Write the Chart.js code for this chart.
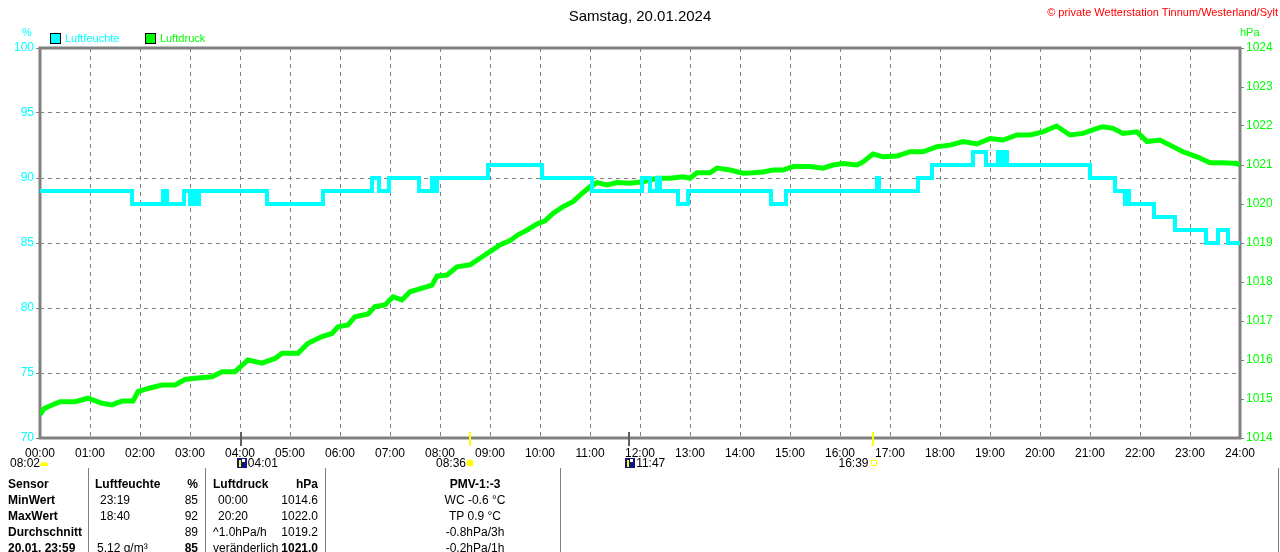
<!DOCTYPE html>
<html lang="de">
  <head>
    <meta charset="UTF-8" />
    <title>Wetterstation Tinnum - Luftfeuchte / Luftdruck</title>
    <script src="https://cdn.jsdelivr.net/npm/chart.js@4.4.1/dist/chart.umd.min.js"></script>
    <style>
      body { margin: 0; background: #fff; }
      #wrap { position: relative; width: 1280px; height: 552px; overflow: hidden;
              font-family: "Liberation Sans", Arial, sans-serif; font-size: 12px; }
      #wrap canvas { position: absolute; left: 0; top: 0; }
      .t { position: absolute; white-space: nowrap; line-height: 14px; }
      .b { font-weight: bold; }
      .r { text-align: right; }
      .c { text-align: center; }
      .vl { position: absolute; width: 1px; background: #808080; top: 468px; height: 84px; }
      .box { position: absolute; width: 9px; height: 9px; border: 1px solid #000; }
    </style>
  </head>
  <body>
    <div id="wrap">
      <canvas id="chart" width="1280" height="552"></canvas>
    </div>

    <script>
      // values
      const hourLabels = ["00:00", "01:00", "02:00", "03:00", "04:00", "05:00", "06:00", "07:00",
        "08:00", "09:00", "10:00", "11:00", "12:00", "13:00", "14:00", "15:00", "16:00",
        "17:00", "18:00", "19:00", "20:00", "21:00", "22:00", "23:00", "24:00"];

      // Luftfeuchte (%), step changes: hour of day -> value from then on
      const humTimes = [0, 1.84, 2.46, 2.54, 2.88, 3.0, 3.06, 3.12, 3.18, 4.54, 5.66, 6.64, 6.78,
        6.98, 7.58, 7.84, 7.88, 7.94, 8.96, 10.04, 11.04, 12.04, 12.2, 12.34, 12.4, 12.76,
        12.96, 14.62, 14.92, 16.74, 16.78, 17.56, 17.84, 18.66, 18.92, 19.16, 19.22, 19.26,
        19.34, 21.0, 21.5, 21.7, 21.74, 21.78, 22.28, 22.7, 23.32, 23.56, 23.76, 24];
      const humValues = [89, 88, 89, 88, 89, 88, 89, 88, 89, 88, 89, 90, 89,
        90, 89, 90, 89, 90, 91, 90, 89, 90, 89, 90, 89, 88,
        89, 88, 89, 90, 89, 90, 91, 92, 91, 92, 91, 92,
        91, 90, 89, 88, 89, 88, 87, 86, 85, 86, 85, 85];

      // Luftdruck (hPa)
      const presTimes = [0, 0.08, 0.16, 0.4, 0.7, 0.96, 1.24, 1.44, 1.64, 1.86, 1.96, 2.16, 2.44,
        2.7, 2.9, 3.1, 3.44, 3.64, 3.9, 4.16, 4.44, 4.7, 4.84, 5.16, 5.36, 5.64, 5.84, 5.96,
        6.16, 6.3, 6.56, 6.7, 6.9, 7.06, 7.24, 7.4, 7.66, 7.84, 7.94, 8.14, 8.34, 8.6, 8.8,
        9.0, 9.2, 9.4, 9.56, 9.74, 9.94, 10.1, 10.26, 10.46, 10.66, 10.84, 11.0, 11.14,
        11.34, 11.54, 11.8, 12.06, 12.34, 12.6, 12.86, 13.0, 13.14, 13.4, 13.54, 13.8,
        14.06, 14.26, 14.46, 14.66, 14.86, 15.06, 15.4, 15.66, 15.86, 16.06, 16.34, 16.46,
        16.66, 16.86, 17.14, 17.4, 17.66, 17.94, 18.2, 18.46, 18.74, 19.0, 19.26, 19.54,
        19.8, 20.06, 20.33, 20.6, 20.86, 21.14, 21.26, 21.46, 21.66, 21.94, 22.14, 22.4,
        22.6, 22.86, 23.14, 23.4, 23.66, 23.94, 24];
      const presValues = [1014.6, 1014.75, 1014.8, 1014.93, 1014.93, 1015.02, 1014.89, 1014.85,
        1014.95, 1014.95, 1015.19, 1015.27, 1015.36, 1015.36, 1015.5, 1015.53, 1015.57,
        1015.7, 1015.7, 1016.0, 1015.92, 1016.04, 1016.17, 1016.17, 1016.43, 1016.6,
        1016.68, 1016.85, 1016.9, 1017.11, 1017.18, 1017.37, 1017.41, 1017.62, 1017.54,
        1017.75, 1017.85, 1017.92, 1018.15, 1018.18, 1018.39, 1018.44, 1018.61, 1018.78,
        1018.95, 1019.06, 1019.21, 1019.33, 1019.49, 1019.57, 1019.76, 1019.93, 1020.06,
        1020.27, 1020.44, 1020.55, 1020.49, 1020.55, 1020.53, 1020.57, 1020.66, 1020.66,
        1020.7, 1020.66, 1020.8, 1020.8, 1020.92, 1020.87, 1020.79, 1020.8, 1020.82,
        1020.87, 1020.87, 1020.96, 1020.96, 1020.92, 1021.0, 1021.04, 1021.0, 1021.08,
        1021.28, 1021.21, 1021.23, 1021.34, 1021.34, 1021.47, 1021.51, 1021.6, 1021.54,
        1021.68, 1021.64, 1021.77, 1021.77, 1021.85, 1022.0, 1021.77, 1021.81, 1021.94,
        1021.98, 1021.94, 1021.81, 1021.85, 1021.6, 1021.64, 1021.51, 1021.34, 1021.21,
        1021.06, 1021.06, 1021.04, 1021.0];

      // sun / moon events under the time axis
      const eventLabels = ["04:01", "08:36", "11:47", "16:39"];
      const eventHours = [4.017, 8.6, 11.783, 16.65];
      const eventKinds = ["moonrise", "sunrise", "moonset", "sunset"];

      // table below the chart
      const tableRows = [
        ["Sensor", "Luftfeuchte", "%", "Luftdruck", "hPa", "PMV-1:-3"],
        ["MinWert", "23:19", "85", "00:00", "1014.6", "WC -0.6 °C"],
        ["MaxWert", "18:40", "92", "20:20", "1022.0", "TP 0.9 °C"],
        ["Durchschnitt", "", "89", "^1.0hPa/h", "1019.2", "-0.8hPa/3h"],
        ["20.01. 23:59", "5.12 g/m³", "85", "veränderlich", "1021.0", "-0.2hPa/1h"]
      ];

      const CYAN = "#00ffff";
      const GREEN = "#00ff00";
      const GREY = "#808080";

      const wrap = document.getElementById("wrap");
      function addText(txt, x, y, cls, style) {
        const el = document.createElement("div");
        el.className = "t " + (cls || "");
        el.textContent = txt;
        el.style.left = x + "px";
        el.style.top = y + "px";
        if (style) Object.assign(el.style, style);
        wrap.appendChild(el);
        return el;
      }

      // header texts
      addText("Samstag, 20.01.2024", 440, 7, "c", { width: "400px", fontSize: "15px", lineHeight: "17px" });
      addText("© private Wetterstation Tinnum/Westerland/Sylt", 980, 5, "r",
        { width: "298px", color: "#ff0000", fontSize: "11px" });
      addText("%", 22, 25, "", { color: CYAN, fontSize: "11px" });
      addText("hPa", 1240, 25, "", { color: GREEN, fontSize: "11px" });

      // legend
      [["Luftfeuchte", CYAN, 50], ["Luftdruck", GREEN, 145]].forEach(([name, col, x]) => {
        const b = document.createElement("div");
        b.className = "box";
        b.style.left = x + "px";
        b.style.top = "33px";
        b.style.background = col;
        wrap.appendChild(b);
        addText(name, x + 15, 31, "", { color: col, fontSize: "11px" });
      });

      // date/time events
      addText("08:02", 10, 456);
      eventLabels.forEach((lab, i) => {
        const x = 40 + eventHours[i] * 50;
        if (eventKinds[i] === "sunrise" || eventKinds[i] === "sunset") addText(lab, x - 34, 456);
        else addText(lab, x + 7, 456);
      });

      // table
      [88, 205, 325, 560, 1278].forEach((x) => {
        const l = document.createElement("div");
        l.className = "vl";
        l.style.left = x + "px";
        wrap.appendChild(l);
      });
      tableRows.forEach((row, r) => {
        const y = 477 + r * 16;
        const bold = r === 0 ? "b" : "";
        addText(row[0], 8, y, "b");
        addText(row[1], r === 0 ? 95 : (r === 4 ? 97 : 100), y, bold);
        addText(row[2], 148, y, "r " + (r === 0 || r === 4 ? "b" : ""), { width: "50px" });
        addText(row[3], r === 1 || r === 2 ? 218 : 213, y, bold);
        addText(row[4], 256, y, "r " + (r === 0 || r === 4 ? "b" : ""), { width: "62px" });
        addText(row[5], 400, y, "c " + bold, { width: "150px" });
      });

      // frame and sun/moon markers drawn on the chart canvas
      const extras = {
        id: "extras",
        beforeDatasetsDraw(chart) {
          const { ctx, chartArea: a } = chart;
          ctx.save();
          ctx.strokeStyle = GREY;
          ctx.lineWidth = 3;
          ctx.strokeRect(a.left, a.top, a.right - a.left, a.bottom - a.top);
          ctx.restore();
        },
        afterDraw(chart) {
          const { ctx, chartArea: a, scales } = chart;
          ctx.save();
          eventHours.forEach((h, i) => {
            const x = Math.round(scales.x.getPixelForValue(h));
            const kind = eventKinds[i];
            const sun = kind === "sunrise" || kind === "sunset";
            ctx.fillStyle = sun ? "#ffff00" : "#606060";
            ctx.fillRect(x - 1, a.bottom - 6, 2, 14);
            if (kind === "sunrise") {
              ctx.fillStyle = "#ffff00";
              ctx.beginPath();
              ctx.arc(x, 463, 3.5, 0, Math.PI * 2);
              ctx.fill();
            } else if (kind === "sunset") {
              ctx.strokeStyle = "#ffff00";
              ctx.lineWidth = 1;
              ctx.strokeRect(x - 1.5, 460.5, 5, 5);
            } else {
              ctx.fillStyle = "#101880";
              ctx.fillRect(x - 4, 458, 10, 10);
              ctx.fillStyle = "#ffffff";
              ctx.fillRect(x + 1, 459, 3, 3);
              ctx.fillStyle = "#ffff00";
              ctx.fillRect(x - 2, 460, 2, 7);
            }
          });
          // twilight sun at the left
          ctx.fillStyle = "#ffff00";
          ctx.beginPath();
          ctx.arc(44, 466, 4, Math.PI, 0);
          ctx.fill();
          ctx.restore();
        }
      };

      const humPoints = humTimes.map((t, i) => ({ x: t, y: humValues[i] }));
      const presPoints = presTimes.map((t, i) => ({ x: t, y: presValues[i] }));

      const ctx = document.getElementById("chart").getContext("2d");
      const myChart = new Chart(ctx, {
        type: "line",
        data: {
          datasets: [
            {
              label: "Luftfeuchte",
              data: humPoints,
              yAxisID: "y",
              // 'before' keeps each value until the next change
              stepped: "before",
              borderColor: CYAN,
              borderWidth: 4,
              pointRadius: 0,
              fill: false
            },
            {
              label: "Luftdruck",
              data: presPoints,
              yAxisID: "y2",
              borderColor: GREEN,
              borderWidth: 5,
              pointRadius: 0,
              tension: 0,
              fill: false
            }
          ]
        },
        options: {
          responsive: false,
          animation: false,
          devicePixelRatio: 1,
          layout: { padding: { top: 48, bottom: 84, left: 0, right: 0 } },
          plugins: { legend: { display: false }, tooltip: { enabled: false } },
          scales: {
            x: {
              type: "linear",
              min: 0,
              max: 24,
              afterFit: (s) => { s.height = 30; },
              ticks: {
                stepSize: 1,
                autoSkip: false,
                maxRotation: 0,
                padding: 8,
                color: "#000",
                font: { family: "Liberation Sans", size: 12 },
                callback: (v) => hourLabels[v]
              },
              grid: { color: GREY, lineWidth: 1, drawTicks: false },
              border: { display: false, dash: [4, 4] }
            },
            y: {
              position: "left",
              min: 70,
              max: 100,
              afterFit: (s) => { s.width = 40; },
              ticks: {
                stepSize: 5,
                padding: 2,
                color: CYAN,
                font: { family: "Liberation Sans", size: 12 },
                callback: (v) => String(v)
              },
              grid: { color: GREY, lineWidth: 1, tickLength: 4 },
              border: { display: false, dash: [4, 4] }
            },
            y2: {
              position: "right",
              min: 1014,
              max: 1024,
              afterFit: (s) => { s.width = 40; },
              ticks: {
                stepSize: 1,
                padding: 2,
                color: GREEN,
                font: { family: "Liberation Sans", size: 12 },
                callback: (v) => String(v)
              },
              grid: { drawOnChartArea: false, color: GREY, tickLength: 4 },
              border: { display: false }
            }
          }
        },
        plugins: [extras]
      });
    </script>
  </body>
</html>
